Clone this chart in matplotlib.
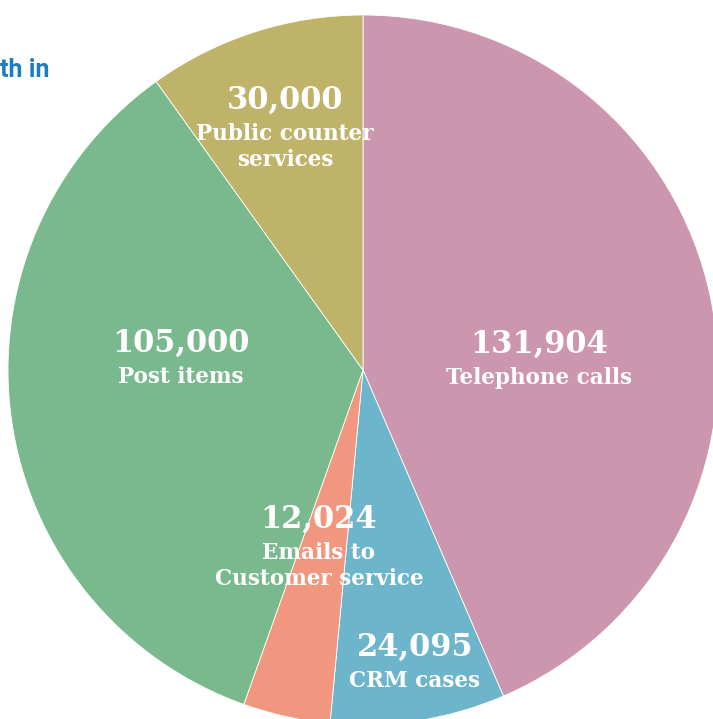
import numpy as np
import matplotlib.pyplot as plt

# Datos del gráfico (sentido horario desde arriba)
categorias = ["Telephone calls", "CRM cases", "Emails to\nCustomer service",
              "Post items", "Public counter\nservices"]
valores = [131904, 24095, 12024, 105000, 30000]
colores = ["#CC96AF", "#6DB5CB", "#F2977F", "#79B98D", "#BFB36A"]

W, H = 713, 719
cx, cy, R = 363, 370, 355  # centro y radio en pixeles

fig = plt.figure(figsize=(W / 100, H / 100), dpi=100)
ax = fig.add_axes([0, 0, 1, 1])
ax.pie(valores, colors=colores, startangle=90, counterclock=False,
       radius=1, wedgeprops=dict(linewidth=0.6, edgecolor="white"))
ax.set_xlim(-cx / R, (W - cx) / R)
ax.set_ylim(-(H - cy) / R, cy / R)
ax.set_aspect("auto")
ax.axis("off")

# posiciones de las etiquetas (pixeles: x, y del número)
pos_etiquetas = [(539, 344), (415, 647), (319, 519), (181, 343), (285, 100)]

def px(x, y):
    return x / W, 1 - y / H

serif = ["DejaVu Serif"]
for val, cat, (x, y) in zip(valores, categorias, pos_etiquetas):
    fig.text(*px(x, y), f"{val:,}", ha="center", va="center", color="white",
             fontsize=22, fontweight="bold", family=serif)
    fig.text(*px(x, y + 23), cat, ha="center", va="top", color="white",
             fontsize=15.5, fontweight="bold", family=serif, linespacing=1.25)

fig.text(*px(0, 70), "th in", ha="left", va="center", color="#1A7DC3",
         fontsize=18, fontweight="bold", family=["Roboto", "DejaVu Sans"])

fig.savefig("out.png", dpi=100)
